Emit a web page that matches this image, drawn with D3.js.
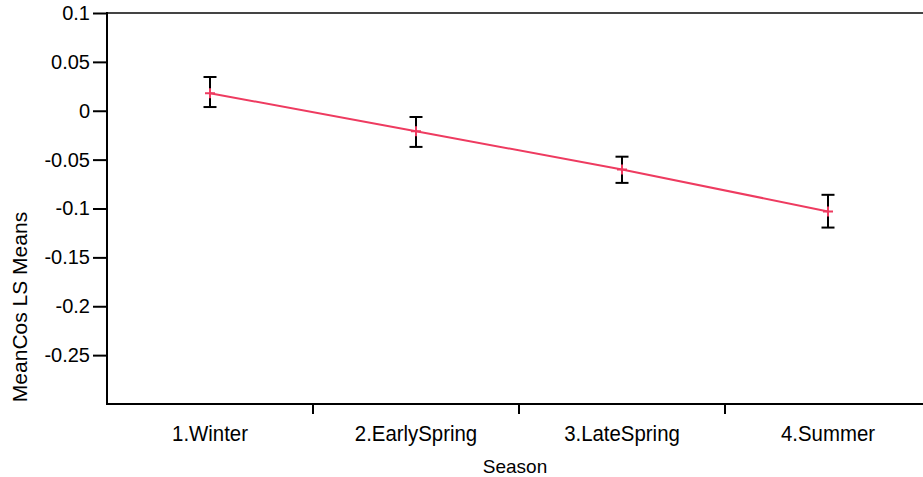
<!DOCTYPE html>
<html>
<head>
<meta charset="utf-8">
<script src="https://cdn.jsdelivr.net/npm/d3@7"></script>
<style>
  body { margin: 0; background: #fff; }
  text { font-family: "Liberation Sans", Arial, sans-serif; fill: #000; }
</style>
</head>
<body>
<svg id="chart" width="923" height="477"></svg>
<script>
// seasons on the x axis
let seasons = ["1.Winter", "2.EarlySpring", "3.LateSpring", "4.Summer"];
// least squares means and their error bar ends
let lsMeans = [0.018, -0.021, -0.060, -0.103];
let upper = [0.0345, -0.0064, -0.047, -0.086];
let lower = [0.0038, -0.037, -0.0738, -0.1195];
let yTicks = [0.1, 0.05, 0, -0.05, -0.1, -0.15, -0.2, -0.25];

let svg = d3.select("#chart");

let plotLeft = 107, plotTop = 13, plotBottom = 404;

// bands run past the right edge, like the original
let x = d3.scaleBand().domain(seasons).range([plotLeft, 931]);
let y = d3.scaleLinear().domain([-0.3, 0.1]).range([plotBottom, plotTop]);

// frame top line
svg.append("line")
    .attr("x1", plotLeft).attr("x2", 923)
    .attr("y1", plotTop).attr("y2", plotTop)
    .attr("stroke", "#444").attr("stroke-width", 2);

// y axis
let yAxis = svg.append("g")
    .attr("transform", "translate(" + plotLeft + ",0)")
    .call(d3.axisLeft(y).tickValues(yTicks).tickSize(14).tickPadding(3)
        .tickFormat(d => d === 0 ? "0" : String(d)));
yAxis.select(".domain").remove();
yAxis.selectAll(".tick line").attr("stroke", "#000").attr("stroke-width", 2);
yAxis.selectAll(".tick text").style("font-size", "20px")
    .attr("font-family", "Liberation Sans, Arial, sans-serif");

svg.append("line")
    .attr("x1", plotLeft).attr("x2", plotLeft)
    .attr("y1", plotTop - 1).attr("y2", plotBottom + 1)
    .attr("stroke", "#000").attr("stroke-width", 2);

// x axis line and ticks between categories
svg.append("line")
    .attr("x1", plotLeft).attr("x2", 923)
    .attr("y1", plotBottom).attr("y2", plotBottom)
    .attr("stroke", "#000").attr("stroke-width", 2);

svg.selectAll(".xtick")
    .data(seasons.slice(1))
    .enter()
    .append("line")
    .attr("class", "xtick")
    .attr("x1", d => x(d)).attr("x2", d => x(d))
    .attr("y1", plotBottom).attr("y2", plotBottom + 10)
    .attr("stroke", "#000").attr("stroke-width", 2);

svg.selectAll(".xlabel")
    .data(seasons)
    .enter()
    .append("text")
    .attr("class", "xlabel")
    .attr("text-anchor", "middle")
    .attr("transform", d => "translate(" + (x(d) + x.bandwidth() / 2) + ",441) scale(1.02,1.1)")
    .style("font-size", "20px")
    .text(d => d);

// axis titles
svg.append("text")
    .attr("x", 515).attr("y", 473)
    .attr("text-anchor", "middle")
    .style("font-size", "19px")
    .text("Season");

svg.append("text")
    .attr("transform", "translate(27,307) rotate(-90)")
    .attr("text-anchor", "middle")
    .style("font-size", "21px")
    .text("MeanCos LS Means");

let cx = d => x(d) + x.bandwidth() / 2;

// error bars
let bars = svg.append("g").attr("stroke", "#000").attr("stroke-width", 2);
seasons.forEach(function(s, i){
    bars.append("line")
        .attr("x1", cx(s)).attr("x2", cx(s))
        .attr("y1", y(upper[i])).attr("y2", y(lower[i]));
    bars.append("line")
        .attr("x1", cx(s) - 6.5).attr("x2", cx(s) + 6.5)
        .attr("y1", y(upper[i])).attr("y2", y(upper[i]));
    bars.append("line")
        .attr("x1", cx(s) - 6.5).attr("x2", cx(s) + 6.5)
        .attr("y1", y(lower[i])).attr("y2", y(lower[i]));
});

// mean line
let line = d3.line()
    .x((d, i) => cx(seasons[i]))
    .y(d => y(d));

svg.append("path")
    .datum(lsMeans)
    .attr("d", line)
    .attr("fill", "none")
    .attr("stroke", "#ee3b60")
    .attr("stroke-width", 2);

// plus markers
svg.selectAll(".marker")
    .data(lsMeans)
    .enter()
    .append("path")
    .attr("class", "marker")
    .attr("d", "M-5,0H5M0,-5V5")
    .attr("transform", (d, i) => "translate(" + cx(seasons[i]) + "," + y(d) + ")")
    .attr("stroke", "#ee3b60")
    .attr("stroke-width", 2)
    .attr("fill", "none");
</script>
</body>
</html>
